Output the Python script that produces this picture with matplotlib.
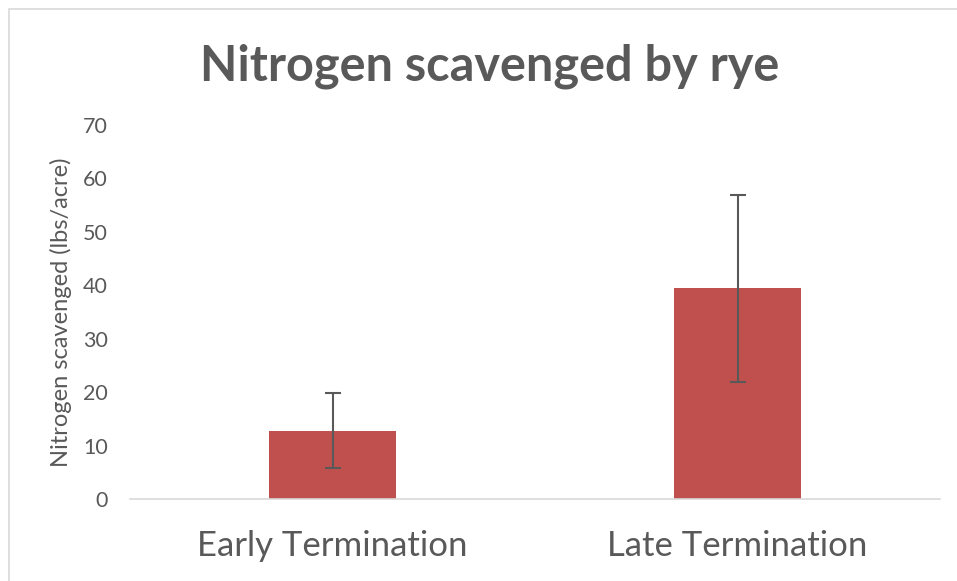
import matplotlib.pyplot as plt
from matplotlib.patches import Rectangle

categories = ["Early Termination", "Late Termination"]
nitrogen = [12.8, 39.4]
err = [7.0, 17.5]
yticks = [0, 10, 20, 30, 40, 50, 60, 70]

plt.rcParams["font.family"] = ["Lato", "DejaVu Sans"]
text_color = "#595959"

fig = plt.figure(figsize=(9.57, 5.81), dpi=100)
ax = fig.add_axes([130 / 957, 1 - 499 / 581, 810 / 957, 374 / 581])

x = range(len(categories))
ax.bar(x, nitrogen, width=0.316, color="#c0504d", yerr=err,
       error_kw=dict(ecolor="#595959", elinewidth=1.5, capsize=6, capthick=1.5))

ax.set_xlim(-0.5, 1.5)
ax.set_ylim(0, 70)
ax.set_yticks(yticks)
ax.set_xticks(list(x))
ax.set_xticklabels(categories, fontsize=25, color=text_color)
ax.tick_params(axis="y", length=0, labelsize=15.5, labelcolor=text_color, pad=16)
ax.tick_params(axis="x", length=0, pad=22)
for side in ["top", "right", "left"]:
    ax.spines[side].set_visible(False)
ax.spines["bottom"].set_color("#d9d9d9")
ax.spines["bottom"].set_linewidth(1.2)

ax.set_ylabel("Nitrogen scavenged (lbs/acre)", fontsize=17, color=text_color, labelpad=8)

fig.text(490 / 957, 1 - 66 / 581, "Nitrogen scavenged by rye", ha="center", va="center",
         fontsize=35, fontweight="bold", color=text_color)

# chart border
fig.patches.append(Rectangle((8.5 / 957, -0.1), 1.2, (581 - 8.5) / 581 + 0.1,
                             transform=fig.transFigure, fill=False,
                             edgecolor="#d9d9d9", linewidth=1.2))

fig.savefig("out.png", dpi=100)
